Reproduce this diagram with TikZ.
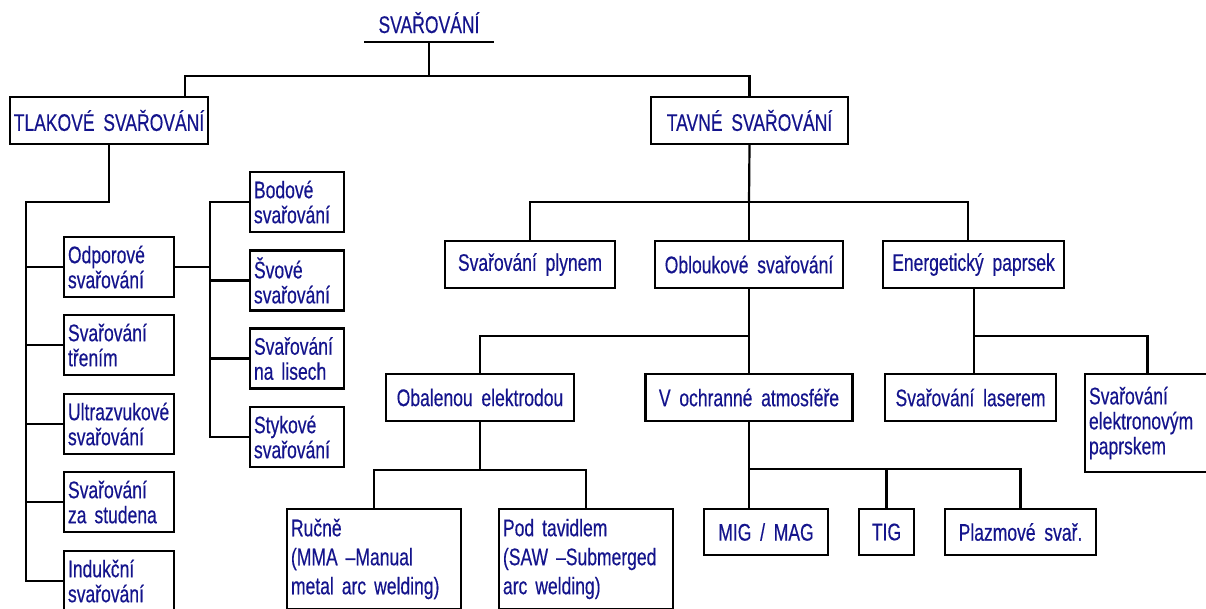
\documentclass[tikz,border=0pt]{standalone}
\usepackage{fontspec}
\setmainfont{Liberation Sans}[FakeStretch=0.73,WordSpace=1.8,FakeBold=0.4]
\definecolor{txt}{RGB}{20,20,140}
\tikzset{
  box/.style={draw, line width=2.2pt, text=txt, inner xsep=4pt, inner ysep=0pt,
    font=\fontsize{24}{25}\selectfont, align=left},
  sbox/.style={box, align=center},
  wire/.style={line width=2.2pt, line join=miter}
}
\begin{document}
\begin{tikzpicture}[x=1pt,y=-1pt]
\useasboundingbox (0,0) rectangle (1206,608);
\begin{scope}
\clip (0,0) rectangle (1206,608);
% title
\node[text=txt, font=\fontsize{24}{25}\selectfont, inner sep=0pt, anchor=base] (title) at (429,33) {SVAŘOVÁNÍ};
\coordinate (ul) at (364,42);
\coordinate (ur) at (494,42);
\coordinate (t0) at (429,42);
\coordinate (j0) at (429,76);
% level 1
\node[sbox, minimum width=196pt, minimum height=47pt] (tlak) at (109,120.5) {TLAKOVÉ SVAŘOVÁNÍ};
\node[sbox, minimum width=197pt, minimum height=47pt] (tavne) at (749.5,120.5) {TAVNÉ SVAŘOVÁNÍ};
% left column
\node[box, text width=102pt, minimum height=60pt] (odp) at (119,267) {Odporové\\svařování};
\node[box, text width=102pt, minimum height=60pt] (treni) at (119,345) {Svařování\\třením};
\node[box, text width=102pt, minimum height=60pt] (ultra) at (119,424) {Ultrazvukové\\svařování};
\node[box, text width=102pt, minimum height=60pt] (stud) at (119,502) {Svařování\\za studena};
\node[box, text width=102pt, minimum height=60pt] (indu) at (119,581) {Indukční\\svařování};
% second column
\node[box, text width=86pt, minimum height=60pt] (bod) at (297,202) {Bodové\\svařování};
\node[box, text width=86pt, minimum height=60pt] (sev) at (297,280.5) {Švové\\svařování};
\node[box, text width=86pt, minimum height=60pt] (lis) at (297,358.5) {Svařování\\na lisech};
\node[box, text width=86pt, minimum height=60pt] (styk) at (297,437) {Stykové\\svařování};
% fusion branch
\node[sbox, minimum width=170pt, minimum height=47pt] (plyn) at (530,264.5) {Svařování plynem};
\node[sbox, minimum width=188pt, minimum height=47pt] (obl) at (749,264.5) {Obloukové svařování};
\node[sbox, minimum width=181pt, minimum height=47pt] (ener) at (973.5,264.5) {Energetický paprsek};
\node[sbox, minimum width=188pt, minimum height=47pt] (obal) at (480,397.5) {Obalenou elektrodou};
\node[sbox, minimum width=207pt, minimum height=47pt] (vochr) at (749,397.5) {V ochranné atmosféře};
\node[sbox, minimum width=171pt, minimum height=47pt] (laser) at (970.5,397.5) {Svařování laserem};
\node[box, text width=117pt, minimum height=98pt] (elek) at (1147.5,423) {Svařování\\elektronovým\\paprskem};
\node[box, text width=166pt, minimum height=100pt, font=\fontsize{24}{29}\selectfont] (rucne) at (374,559) {Ručně\\(MMA –Manual\\metal arc welding)};
\node[box, text width=166pt, minimum height=100pt, font=\fontsize{24}{29}\selectfont] (pod) at (586,559) {Pod tavidlem\\(SAW –Submerged\\arc welding)};
\node[sbox, minimum width=124pt, minimum height=46pt] (mig) at (766,532) {MIG / MAG};
\node[sbox, minimum width=55pt, minimum height=46pt] (tig) at (886.5,532) {TIG};
\node[sbox, minimum width=151pt, minimum height=46pt] (plaz) at (1020.5,532) {Plazmové svař.};
% connectors
\draw[wire] (ul) -- (ur);
\draw[wire] (t0) -- (j0);
\draw[wire] ([xshift=76pt]tlak.north) |- (tavne.north |- j0) -- (tavne.north);
\coordinate (sp) at (26,202);
\draw[wire] (tlak.south) |- (sp) -- (sp |- indu.west) -- (indu.west);
\foreach \n in {odp,treni,ultra,stud} { \draw[wire] (sp |- \n.west) -- (\n.west); }
\coordinate (sp2) at (210,202);
\draw[wire] (odp.east) -- (sp2 |- odp.east);
\draw[wire] (bod.west) -- (sp2 |- bod.west) -- (sp2 |- styk.west) -- (styk.west);
\foreach \n in {sev,lis} { \draw[wire] (sp2 |- \n.west) -- (\n.west); }
\coordinate (j1) at (749,202);
\coordinate (e1) at (968,241);
\draw[wire] (tavne.south) -- (j1);
\draw[wire] (plyn.north) |- (e1 |- j1) -- (e1);
\draw[wire] (j1) -- (obl.north);
\coordinate (j2) at (749,336);
\draw[wire] (obl.south) -- (vochr.north);
\draw[wire] (j2) -| (obal.north);
\coordinate (j3) at (974,336);
\draw[wire] (j3 |- ener.south) -- (j3 |- laser.north);
\draw[wire] (j3) -| (elek.north);
\coordinate (j4) at (749,469);
\draw[wire] (vochr.south) -- (j4 |- mig.north);
\draw[wire] (j4) -| (plaz.north);
\draw[wire] (tig.north) -- (tig.north |- j4);
\coordinate (j5) at (480,470);
\draw[wire] (obal.south) -- (j5);
\draw[wire] (rucne.north) |- (pod.north |- j5) -- (pod.north);
\end{scope}
\end{tikzpicture}
\end{document}
